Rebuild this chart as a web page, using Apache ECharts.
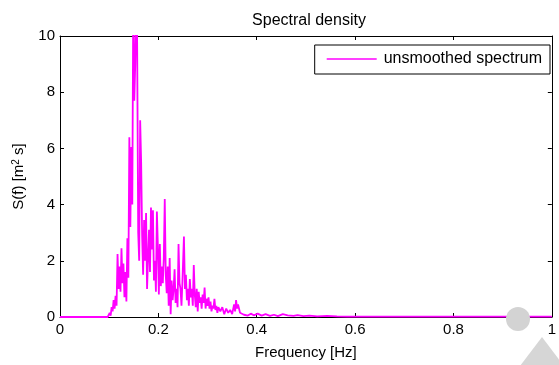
<!DOCTYPE html>
<html>
	<head>
		<meta charset="utf-8" />
		<title></title>
		<script src="https://cdn.jsdelivr.net/npm/echarts@6/dist/echarts.min.js"></script>
		<style>
			html, body { margin: 0; padding: 0; background: #fff; }
		</style>
	</head>
	<body>
		<div id="chart" style="width: 559px; height: 365px;"></div>
		<script>
		// frequency [Hz] and spectral density
		var freq = [
			0, 0.097, 0.101, 0.103, 0.105, 0.107, 0.109, 0.111, 0.113, 0.115,
			0.117, 0.119, 0.121, 0.123, 0.125, 0.127, 0.129, 0.131, 0.133, 0.135,
			0.137, 0.139, 0.141, 0.143, 0.145, 0.147, 0.149, 0.151, 0.153, 0.156,
			0.159, 0.161, 0.163, 0.165, 0.167, 0.169, 0.171, 0.173, 0.175, 0.177,
			0.179, 0.181, 0.183, 0.185, 0.187, 0.189, 0.191, 0.193, 0.195, 0.197,
			0.199, 0.201, 0.203, 0.205, 0.207, 0.209, 0.211, 0.213, 0.215, 0.217,
			0.219, 0.221, 0.223, 0.225, 0.227, 0.229, 0.231, 0.233, 0.235, 0.237,
			0.239, 0.241, 0.243, 0.245, 0.247, 0.249, 0.252, 0.254, 0.256, 0.258,
			0.260, 0.262, 0.264, 0.266, 0.268, 0.270, 0.272, 0.274, 0.276, 0.278,
			0.280, 0.282, 0.284, 0.286, 0.288, 0.290, 0.292, 0.294, 0.296, 0.298,
			0.300, 0.302, 0.304, 0.306, 0.308, 0.310, 0.312, 0.314, 0.316, 0.318,
			0.320, 0.322, 0.326, 0.330, 0.334, 0.338, 0.342, 0.346, 0.350, 0.354,
			0.356, 0.358, 0.360, 0.362, 0.366, 0.370, 0.374, 0.378, 0.382, 0.388,
			0.394, 0.402, 0.410, 0.418, 0.427, 0.435, 0.443, 0.453, 0.463, 0.475,
			0.483, 0.495, 0.507, 0.523, 0.543, 0.563, 0.584, 0.650, 0.750, 0.850,
			1.0
		];
		var psd = [
			0, 0, 0.15, 0.05, 0.35, 0.2, 0.6, 0.3, 0.75, 0.4,
			2.24, 1.0, 1.8, 0.9, 2.45, 1.2, 1.9, 0.7, 1.6, 0.55,
			2.8, 1.4, 6.4, 3.2, 6.05, 4.0, 11.5, 7.7, 9.0, 12.4,
			3.0, 2.0, 7.0, 5.5, 2.9, 1.5, 3.45, 2.0, 3.7, 1.0,
			2.1, 3.1, 1.6, 3.9, 2.4, 3.8, 1.3, 2.0, 0.9, 3.75,
			2.5, 0.8, 2.6, 1.1, 1.8, 1.2, 2.1, 4.2, 1.5, 0.85,
			1.8, 0.4, 2.1, 0.1, 1.3, 0.6, 1.0, 1.7, 0.5, 1.0,
			0.35, 2.6, 1.2, 1.0, 0.4, 1.3, 2.86, 1.0, 1.5, 0.6,
			1.0, 0.4, 1.35, 0.7, 1.0, 0.4, 1.85, 0.8, 0.35, 1.0,
			0.2, 0.9, 0.5, 0.7, 0.3, 0.8, 0.5, 1.05, 0.3, 0.65,
			0.4, 0.7, 0.3, 0.55, 0.2, 0.4, 0.3, 0.65, 0.25, 0.4,
			0.15, 0.35, 0.2, 0.35, 0.1, 0.3, 0.15, 0.25, 0.1, 0.45,
			0.2, 0.6, 0.3, 0.45, 0.15, 0.2, 0.08, 0.15, 0.05, 0.12,
			0.06, 0.12, 0.05, 0.1, 0.04, 0.08, 0.03, 0.1, 0.06, 0.04,
			0.07, 0.03, 0.05, 0.02, 0.04, 0.02, 0.01, 0.01, 0.01, 0.01,
			0.01
		];
		var seriesName = 'unsmoothed spectrum';
		var xTicks = [0, 0.2, 0.4, 0.6, 0.8, 1];
		var yTicks = [0, 2, 4, 6, 8, 10];

		var font = "'Liberation Sans', Arial, sans-serif";
		var points = freq.map(function (f, i) { return [f, psd[i]]; });

		var myChart = echarts.init(document.getElementById('chart'));
		var frame = {
			axisLine: { show: true, onZero: false, lineStyle: { color: '#000', width: 1 } },
			axisTick: { show: true, inside: true, length: 4, lineStyle: { color: '#000' } },
			splitLine: { show: false }
		};
		var option = {
			animation: false,
			backgroundColor: '#fff',
			title: {
				text: 'Spectral density',
				left: 309,
				top: 13,
				padding: 0,
				textAlign: 'center',
				textStyle: { fontFamily: font, fontSize: 16, fontWeight: 'normal', color: '#000' }
			},
			legend: {
				data: [{ name: seriesName, icon: 'rect' }],
				right: 9,
				top: 45,
				padding: [6, 8, 7, 12],
				itemWidth: 50,
				itemHeight: 1.5,
				itemGap: 0,
				borderColor: '#000',
				borderWidth: 1,
				borderRadius: 0,
				backgroundColor: '#fff',
				textStyle: { fontFamily: font, fontSize: 16, color: '#000', padding: [0, 0, 0, 2] }
			},
			grid: { left: 60, top: 36, width: 498, height: 281, containLabel: false },
			xAxis: [
				Object.assign({
					type: 'value', position: 'bottom', min: xTicks[0], max: xTicks[xTicks.length - 1], interval: 0.2,
					name: 'Frequency [Hz]', nameLocation: 'middle', nameGap: 28,
					nameTextStyle: { fontFamily: font, fontSize: 15, color: '#000' },
					axisLabel: { margin: 5, fontFamily: font, fontSize: 15, color: '#000' }
				}, frame),
				Object.assign({
					type: 'value', position: 'top', min: 0, max: 1, interval: 0.2,
					axisLabel: { show: false }
				}, frame)
			],
			yAxis: [
				Object.assign({
					type: 'value', position: 'left', min: yTicks[0], max: yTicks[yTicks.length - 1], interval: 2,
					name: 'S(f) [m{sup|2} s]', nameLocation: 'middle', nameGap: 33, nameRotate: 90,
					nameTextStyle: {
						fontFamily: font, fontSize: 15, color: '#000',
						rich: { sup: { fontFamily: font, fontSize: 10, color: '#000', verticalAlign: 'top', padding: [0, 0, 6, 0] } }
					},
					axisLabel: { margin: 5, fontFamily: font, fontSize: 15, color: '#000' }
				}, frame),
				Object.assign({
					type: 'value', position: 'right', min: 0, max: 10, interval: 2,
					axisLabel: { show: false }
				}, frame)
			],
			series: [{
				name: seriesName,
				type: 'line',
				data: points,
				symbol: 'none',
				clip: true,
				color: '#ff00ff',
				lineStyle: { color: '#ff00ff', width: 1.8 },
				z: 3
			}],
			graphic: [
				{ type: 'circle', shape: { cx: 518, cy: 319, r: 12 }, style: { fill: '#d3d3d3' }, z: 100 },
				{ type: 'polygon', shape: { points: [[542, 337], [520, 366], [564, 366]] }, style: { fill: '#d6d6d6' }, z: 100 }
			]
		};
		myChart.setOption(option);
		</script>
	</body>
</html>
